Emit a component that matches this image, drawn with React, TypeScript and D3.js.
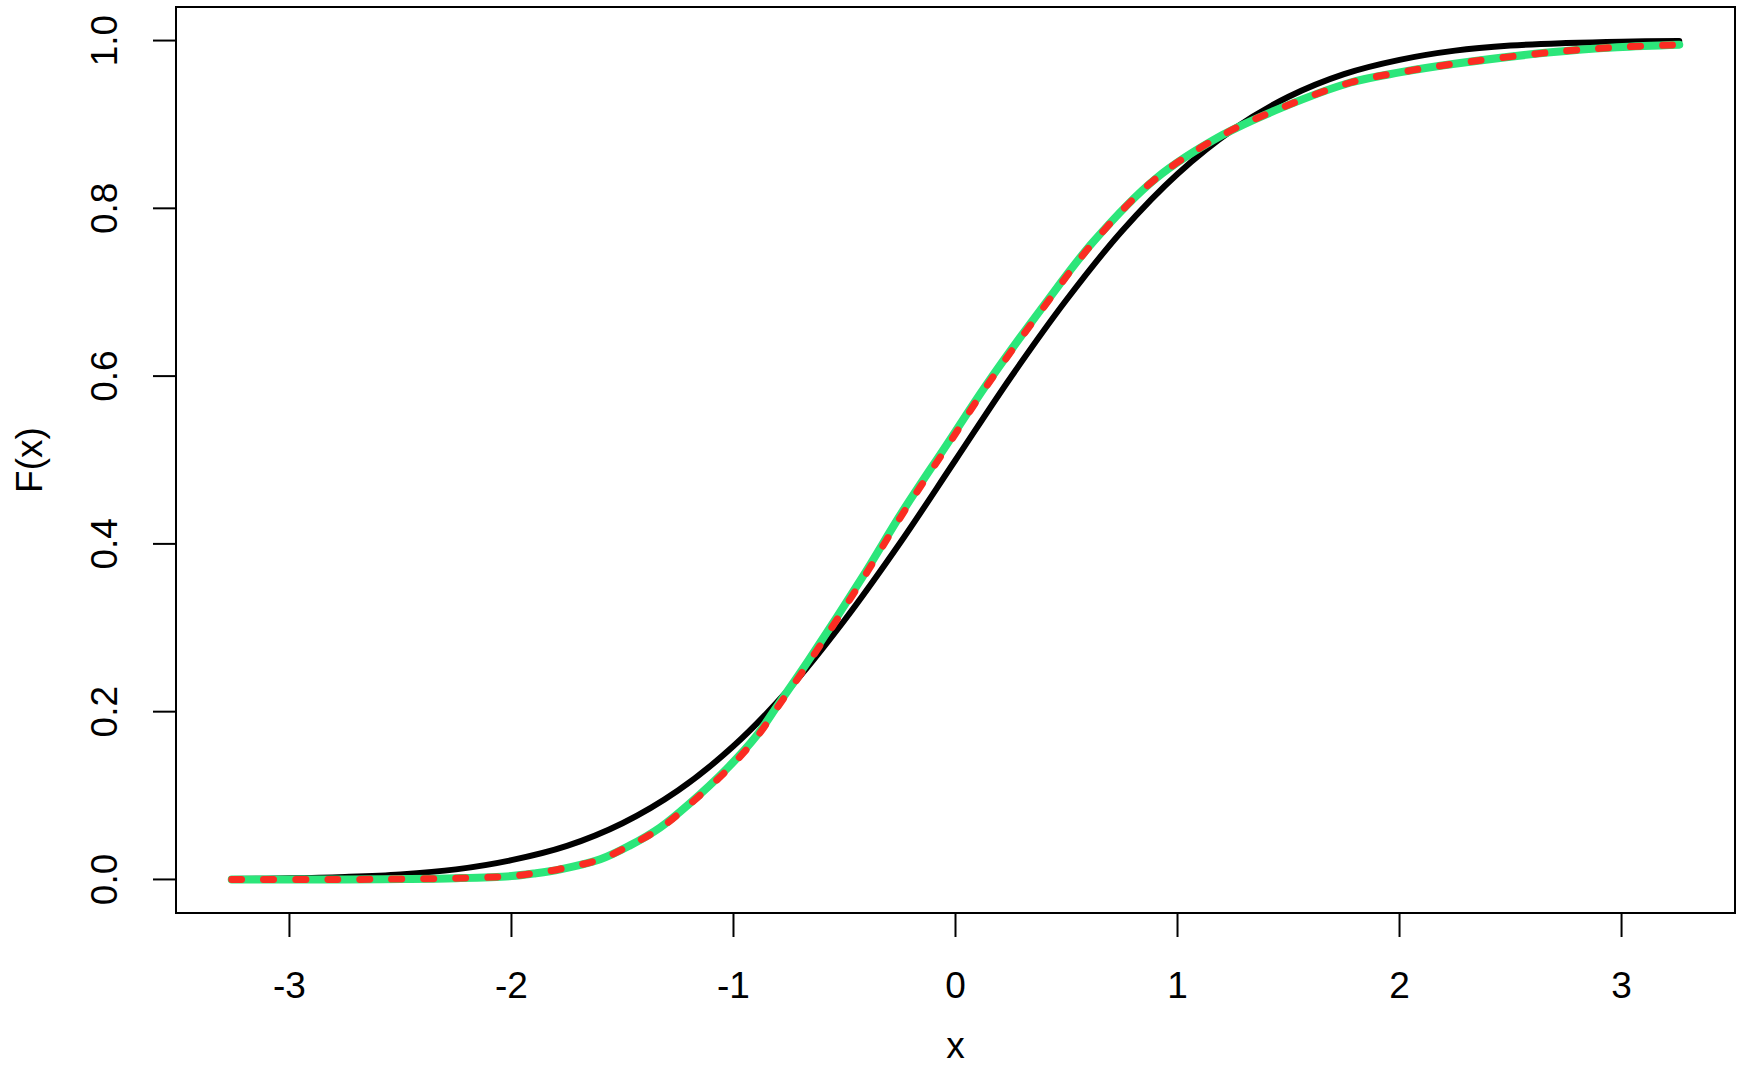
import React from "react";
import * as d3 from "d3";

// Theoretical CDF (black)
const blackX = [-3.26, -3, -2.75, -2.5, -2.25, -2, -1.75, -1.5, -1.25, -1, -0.75, -0.5, -0.25, 0, 0.25, 0.5, 0.75, 1, 1.25, 1.5, 1.75, 2, 2.25, 2.5, 2.75, 3, 3.26];
const blackF = [0.0006, 0.0013, 0.003, 0.006, 0.012, 0.023, 0.040, 0.067, 0.106, 0.159, 0.227, 0.309, 0.401, 0.5, 0.599, 0.691, 0.773, 0.841, 0.894, 0.933, 0.960, 0.977, 0.988, 0.994, 0.997, 0.9987, 0.9994];

// Estimated CDF (green)
const greenX = [-3.26, -2.75, -2.5, -2.25, -2.0, -1.9, -1.78, -1.6, -1.47, -1.33, -1.2, -1.03, -0.9, -0.8, -0.66, -0.42, -0.24, -0.04, 0.14, 0.4, 0.62, 0.9, 1.2, 1.47, 1.78, 2.0, 2.24, 2.68, 2.98, 3.26];
const greenF = [0.0, 0.0, 0.0005, 0.0015, 0.004, 0.007, 0.012, 0.024, 0.04, 0.062, 0.09, 0.132, 0.17, 0.208, 0.262, 0.36, 0.438, 0.518, 0.59, 0.685, 0.76, 0.835, 0.887, 0.92, 0.95, 0.962, 0.972, 0.986, 0.992, 0.995];

// Second estimate (red dashed)
const redX = [-3.26, -2.75, -2.5, -2.25, -2.0, -1.9, -1.78, -1.6, -1.47, -1.33, -1.2, -1.03, -0.9, -0.8, -0.66, -0.42, -0.24, -0.04, 0.14, 0.4, 0.62, 0.9, 1.2, 1.47, 1.78, 2.0, 2.24, 2.68, 2.98, 3.26];
const redF = [0.0, 0.0, 0.0005, 0.0015, 0.004, 0.0072, 0.0125, 0.024, 0.04, 0.061, 0.089, 0.13, 0.168, 0.206, 0.259, 0.357, 0.435, 0.515, 0.588, 0.683, 0.759, 0.835, 0.887, 0.92, 0.95, 0.962, 0.972, 0.986, 0.992, 0.995];

const xTicks = [-3, -2, -1, 0, 1, 2, 3];
const yTicks = [0.0, 0.2, 0.4, 0.6, 0.8, 1.0];

const W = 1741, H = 1068;
const L = 176, R = 1735, T = 7, B = 913;
const FONT = "'Liberation Sans', Arial, Helvetica, sans-serif";

export default function App() {
  const x = d3.scaleLinear().domain([-3.511, 3.511]).range([L, R]);
  const y = d3.scaleLinear().domain([-0.04, 1.04]).range([B, T]);
  const line = d3
    .line<[number, number]>()
    .x((d) => x(d[0]))
    .y((d) => y(d[1]))
    .curve(d3.curveCatmullRom.alpha(0.5));
  const black = line(blackX.map((v, i) => [v, blackF[i]] as [number, number])) || "";
  const green = line(greenX.map((v, i) => [v, greenF[i]] as [number, number])) || "";
  const red = line(redX.map((v, i) => [v, redF[i]] as [number, number])) || "";

  return (
    <svg
      width={W}
      height={H}
      style={{ position: "absolute", left: 0, top: 0, display: "block", background: "#fff" }}
    >
      <rect x={0} y={0} width={W} height={H} fill="#fff" />
      <path d={black} fill="none" stroke="#000" strokeWidth={6} strokeLinecap="round" />
      <path d={green} fill="none" stroke="#2ce67a" strokeWidth={8} strokeLinecap="round" />
      <path
        d={red}
        fill="none"
        stroke="#fb2c22"
        strokeWidth={7}
        strokeLinecap="round"
        strokeDasharray="10 22"
      />
      <rect x={L} y={T} width={R - L} height={B - T} fill="none" stroke="#000" strokeWidth={2} />
      {xTicks.map((t) => (
        <g key={"x" + t}>
          <line x1={x(t)} x2={x(t)} y1={B} y2={B + 24} stroke="#000" strokeWidth={2} />
          <text x={x(t)} y={998} fontSize={37} fontFamily={FONT} textAnchor="middle" fill="#000">
            {t}
          </text>
        </g>
      ))}
      {yTicks.map((t) => (
        <g key={"y" + t}>
          <line x1={L} x2={L - 23} y1={y(t)} y2={y(t)} stroke="#000" strokeWidth={2} />
          <text
            transform={`translate(117,${y(t)}) rotate(-90)`}
            fontSize={37}
            fontFamily={FONT}
            textAnchor="middle"
            fill="#000"
          >
            {t.toFixed(1)}
          </text>
        </g>
      ))}
      <text x={(L + R) / 2} y={1058} fontSize={37} fontFamily={FONT} textAnchor="middle" fill="#000">
        x
      </text>
      <text
        transform={`translate(42,${(T + B) / 2}) rotate(-90)`}
        fontSize={37}
        fontFamily={FONT}
        textAnchor="middle"
        fill="#000"
      >
        F(x)
      </text>
    </svg>
  );
}
